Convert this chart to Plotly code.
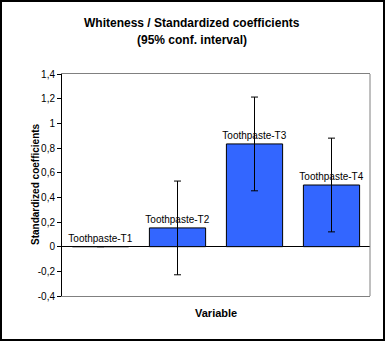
import plotly.graph_objects as go

categories = ["Toothpaste-T1", "Toothpaste-T2", "Toothpaste-T3", "Toothpaste-T4"]
coefficients = [0.0, 0.152, 0.833, 0.50]
ci_half_width = [0.0, 0.38, 0.38, 0.38]
tick_vals = [-0.4, -0.2, 0, 0.2, 0.4, 0.6, 0.8, 1.0, 1.2, 1.4]
tick_text = ["-0,4", "-0,2", "0", "0,2", "0,4", "0,6", "0,8", "1", "1,2", "1,4"]
title_lines = ["Whiteness / Standardized coefficients", "(95% conf. interval)"]
x_title = "Variable"
y_title = "Standardized coefficients"

W, H = 385, 341
L, R, T, B = 62, 15, 74, 45
pw, ph = W - L - R, H - T - B
FONT = "Arial, Liberation Sans"

def px2paper_x(px):
    return (px - L) / pw

def px2paper_y(py):
    return (H - B - py) / ph

fig = go.Figure()
fig.add_trace(go.Bar(
    x=categories,
    y=coefficients,
    width=0.73,
    marker=dict(color="#3366FF", line=dict(color="black", width=1)),
    error_y=dict(type="data", array=ci_half_width, visible=True,
                 color="black", thickness=1, width=3.5),
    text=categories,
    textposition="outside",
    constraintext="none",
    textfont=dict(family=FONT, size=10, color="black"),
    cliponaxis=False,
    showlegend=False,
))

annotations = [
    dict(text=title_lines[0], xref="paper", yref="paper",
         x=px2paper_x(192), y=px2paper_y(23), xanchor="center", yanchor="middle",
         showarrow=False, font=dict(family=FONT, size=12, color="black", weight="bold")),
    dict(text=title_lines[1], xref="paper", yref="paper",
         x=px2paper_x(192), y=px2paper_y(40), xanchor="center", yanchor="middle",
         showarrow=False, font=dict(family=FONT, size=12, color="black", weight="bold")),
    dict(text=x_title, xref="paper", yref="paper",
         x=px2paper_x(216), y=px2paper_y(313), xanchor="center", yanchor="middle",
         showarrow=False, font=dict(family=FONT, size=11, color="black", weight="bold")),
    dict(text=y_title, xref="paper", yref="paper", textangle=-90,
         x=px2paper_x(35), y=px2paper_y(184), xanchor="center", yanchor="middle",
         showarrow=False, font=dict(family=FONT, size=10, color="black", weight="bold")),
]

fig.update_layout(
    width=W, height=H,
    margin=dict(l=L, r=R, t=T, b=B),
    paper_bgcolor="white", plot_bgcolor="white",
    font=dict(family=FONT, color="black", size=10),
    separators=",.",
    xaxis=dict(
        range=[-0.5, 3.5],
        showticklabels=False, ticks="",
        showline=True, linecolor="#808080", linewidth=1, mirror=True,
        showgrid=False, zeroline=False,
    ),
    yaxis=dict(
        range=[-0.4, 1.4],
        tickvals=tick_vals, ticktext=tick_text,
        ticks="outside", ticklen=4, tickcolor="black",
        showline=True, linecolor="black", linewidth=1,
        showgrid=False,
        zeroline=True, zerolinecolor="black", zerolinewidth=1,
        tickfont=dict(family=FONT, size=10),
    ),
    annotations=annotations,
    shapes=[
        dict(type="line", xref="paper", yref="paper", x0=1, x1=1, y0=0, y1=1,
             line=dict(color="#808080", width=1)),
        dict(type="rect", xref="paper", yref="paper",
             x0=px2paper_x(1), x1=px2paper_x(384), y0=px2paper_y(1), y1=px2paper_y(340),
             line=dict(color="black", width=2), fillcolor="rgba(0,0,0,0)"),
    ],
)

fig.write_html("out.html")
